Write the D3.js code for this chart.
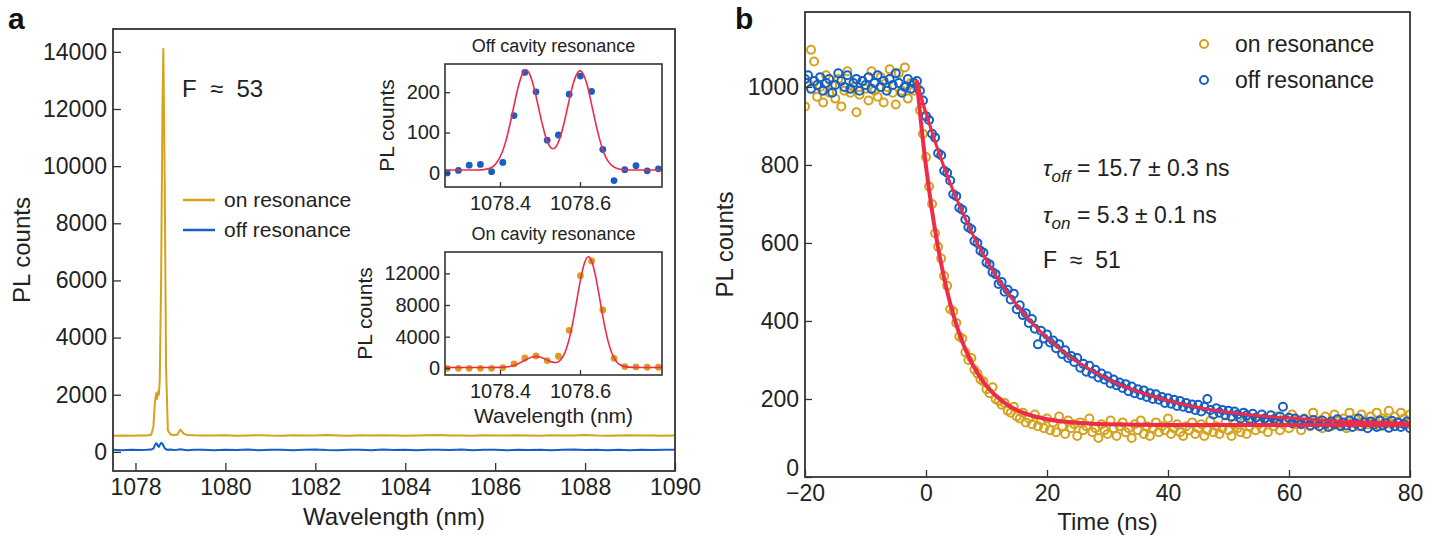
<!DOCTYPE html>
<html>
<head>
<meta charset="utf-8">
<script src="https://cdn.jsdelivr.net/npm/d3@7"></script>
<style>
  body { margin: 0; background: #fff; }
  svg { font-family: "Liberation Sans", Arial, sans-serif; }
  .keep-space { white-space: pre; }
</style>
</head>
<body>
<div id="wrapper"></div>
<script>
// ---- data ----

// panel a, full spectrum
const specWavelength = [1077.5, 1077.7, 1077.9, 1078.1, 1078.25, 1078.35, 1078.40, 1078.43, 1078.46, 1078.48,
  1078.50, 1078.52, 1078.54, 1078.57, 1078.60, 1078.62, 1078.65, 1078.68, 1078.72, 1078.78,
  1078.85, 1078.93, 1079.0, 1079.07, 1079.15, 1079.3,
  1079.5, 1079.75, 1080, 1080.25, 1080.5, 1080.75, 1081, 1081.25, 1081.5, 1081.75,
  1082, 1082.25, 1082.5, 1082.75, 1083, 1083.25, 1083.5, 1083.75, 1084, 1084.25,
  1084.5, 1084.75, 1085, 1085.25, 1085.5, 1085.75, 1086, 1086.25, 1086.5, 1086.75,
  1087, 1087.25, 1087.5, 1087.75, 1088, 1088.25, 1088.5, 1088.75, 1089, 1089.25,
  1089.5, 1089.75, 1090]
const specOn = [560, 570, 565, 575, 570, 600, 900, 1700, 2050, 1850,
  2100, 2000, 2500, 6000, 12000, 14100, 9500, 3000, 750, 610,
  590, 600, 780, 640, 590, 580,
  575, 570, 580, 565, 575, 585, 570, 565, 580, 575,
  570, 590, 575, 565, 580, 570, 585, 575, 565, 570,
  580, 590, 570, 575, 565, 580, 575, 570, 585, 575,
  565, 580, 570, 575, 590, 570, 565, 575, 580, 570,
  575, 565, 570]
const specOff = [70, 60, 75, 65, 70, 80, 120, 230, 300, 280,
  200, 180, 240, 310, 290, 220, 130, 90, 70, 85,
  65, 75, 90, 70, 60, 75,
  70, 60, 75, 65, 80, 55, 70, 75, 60, 70,
  85, 65, 60, 75, 70, 55, 80, 65, 70, 60,
  75, 70, 65, 80, 60, 70, 75, 55, 70, 65,
  75, 60, 70, 80, 65, 70, 60, 75, 55, 70,
  65, 75, 70]

// insets, measured points
const insetWavelength = [1078.268, 1078.296, 1078.323, 1078.351, 1078.379, 1078.407, 1078.435, 1078.462, 1078.490, 1078.518,
  1078.546, 1078.573, 1078.601, 1078.629, 1078.657, 1078.685, 1078.712, 1078.740, 1078.768, 1078.796]
const insetOffCounts = [0, 6, 19, 21, 3, 26, 142, 249, 201, 81, 94, 195, 240, 202, 58, -19, 8, 18, 5, 10]
const insetOnCounts = [0, 0, 0, 0, 0, 84, 550, 1300, 1560, 970, 1520, 4800, 11700, 13560, 7370, 1260, 210, 170, 130, 130]

// insets, fitted curves
const insetFitOffWavelength = [1078.26, 1078.30, 1078.34, 1078.37, 1078.39, 1078.405, 1078.415, 1078.425, 1078.435, 1078.445,
  1078.455, 1078.465, 1078.475, 1078.485, 1078.495, 1078.505, 1078.515, 1078.525, 1078.5325, 1078.54,
  1078.55, 1078.56, 1078.57, 1078.58, 1078.59, 1078.60, 1078.61, 1078.62, 1078.63, 1078.64,
  1078.65, 1078.66, 1078.67, 1078.68, 1078.69, 1078.70, 1078.72, 1078.81]
const insetFitOffCounts = [7, 7, 7, 10, 23, 50, 80, 121, 167, 211,
  243, 255, 243, 211, 168, 124, 87, 65, 60, 65,
  87, 123, 167, 210, 241, 253, 241, 210, 165, 120,
  80, 49, 29, 18, 12, 9, 7, 7]
const insetFitOnWavelength = [1078.26, 1078.35, 1078.38, 1078.40, 1078.42, 1078.44, 1078.46, 1078.48, 1078.49, 1078.50,
  1078.52, 1078.53, 1078.54, 1078.55, 1078.56, 1078.57, 1078.58, 1078.59, 1078.60, 1078.61,
  1078.621, 1078.63, 1078.64, 1078.65, 1078.66, 1078.67, 1078.68, 1078.69, 1078.70, 1078.72,
  1078.75, 1078.81]
const insetFitOnCounts = [100, 100, 102, 116, 192, 449, 950, 1424, 1500, 1426,
  984, 776, 732, 989, 1725, 3122, 5268, 8014, 10870, 13130,
  14100, 13440, 11390, 8590, 5770, 3460, 1870, 926, 443, 141,
  100, 100]

// panel b, decay traces
const decayTime = [
  -20, -19.5, -19, -18.5, -18, -17.5, -17, -16.5, -16, -15.5, -15, -14.5, -14, -13.5, -13, -12.5, -12, -11.5, -11, -10.5,
  -10, -9.5, -9, -8.5, -8, -7.5, -7, -6.5, -6, -5.5, -5, -4.5, -4, -3.5, -3, -2.5, -2, -1.5, -1, -0.5,
  0, 0.5, 1, 1.5, 2, 2.5, 3, 3.5, 4, 4.5, 5, 5.5, 6, 6.5, 7, 7.5, 8, 8.5, 9, 9.5,
  10, 10.5, 11, 11.5, 12, 12.5, 13, 13.5, 14, 14.5, 15, 15.5, 16, 16.5, 17, 17.5, 18, 18.5, 19, 19.5,
  20, 20.5, 21, 21.5, 22, 22.5, 23, 23.5, 24, 24.5, 25, 25.5, 26, 26.5, 27, 27.5, 28, 28.5, 29, 29.5,
  30, 30.5, 31, 31.5, 32, 32.5, 33, 33.5, 34, 34.5, 35, 35.5, 36, 36.5, 37, 37.5, 38, 38.5, 39, 39.5,
  40, 40.5, 41, 41.5, 42, 42.5, 43, 43.5, 44, 44.5, 45, 45.5, 46, 46.5, 47, 47.5, 48, 48.5, 49, 49.5,
  50, 50.5, 51, 51.5, 52, 52.5, 53, 53.5, 54, 54.5, 55, 55.5, 56, 56.5, 57, 57.5, 58, 58.5, 59, 59.5,
  60, 60.5, 61, 61.5, 62, 62.5, 63, 63.5, 64, 64.5, 65, 65.5, 66, 66.5, 67, 67.5, 68, 68.5, 69, 69.5,
  70, 70.5, 71, 71.5, 72, 72.5, 73, 73.5, 74, 74.5, 75, 75.5, 76, 76.5, 77, 77.5, 78, 78.5, 79, 79.5,
  80]
const decayOn = [
  950, 1010, 1095, 1065, 975, 1000, 960, 1030, 985, 1005, 970, 1020, 950, 990, 1040, 985, 1000, 935, 980, 1015,
  995, 965, 1040, 990, 975, 1025, 960, 1000, 1045, 985, 955, 1035, 990, 1050, 970, 1010, 990, 1000, 940, 880,
  820, 745, 700, 625, 590, 560, 515, 490, 430, 425, 395, 360, 355, 320, 300, 305, 275, 265, 250, 245,
  225, 215, 230, 200, 195, 185, 190, 170, 165, 180, 155, 150, 165, 140, 150, 135, 160, 130, 145, 125,
  150, 120, 140, 115, 155, 130, 110, 145, 125, 135, 105, 140, 120, 130, 150, 115, 125, 100, 135, 120,
  110, 145, 125, 105, 130, 140, 115, 125, 100, 135, 120, 145, 110, 130, 105, 125, 140, 115, 130, 120,
  150, 110, 125, 135, 115, 105, 130, 120, 140, 110, 125, 135, 105, 120, 145, 115, 130, 110, 125, 140,
  120, 105, 135, 125, 115, 140, 110, 130, 145, 120, 135, 125, 150, 115, 140, 130, 155, 120, 135, 145,
  125, 160, 135, 145, 120, 150, 140, 130, 165, 135, 145, 125, 155, 140, 130, 160, 145, 135, 150, 125,
  165, 140, 150, 130, 160, 145, 135, 155, 140, 165, 130, 150, 145, 170, 135, 155, 140, 165, 150, 135,
  160]
const decayOff = [
  1020, 1030, 995, 1015, 1005, 1025, 990, 1010, 1020, 985, 1005, 1035, 1015, 1000, 1030, 995, 1010, 1020, 990, 1015,
  1005, 1025, 995, 1010, 1030, 1000, 1015, 990, 1020, 1005, 1035, 1010, 985, 1000, 1020, 995, 1010, 1015, 990, 965,
  925, 915, 880, 870, 830, 825, 785, 780, 760, 725, 720, 690, 685, 660, 640, 635, 605, 600, 580, 575,
  550, 545, 525, 520, 495, 500, 475, 480, 455, 470, 430, 440, 415, 420, 395, 405, 380, 340, 375, 355,
  365, 345, 350, 330, 340, 315, 325, 305, 310, 295, 305, 280, 290, 270, 285, 265, 275, 255, 265, 250,
  258, 240, 250, 235, 242, 228, 238, 220, 232, 215, 225, 210, 222, 205, 215, 200, 212, 198, 205, 190,
  202, 188, 198, 182, 195, 180, 190, 176, 186, 172, 185, 168, 180, 200, 172, 160, 176, 165, 172, 158,
  170, 155, 168, 160, 150, 165, 158, 148, 162, 152, 145, 160, 150, 142, 158, 148, 140, 155, 180, 145,
  152, 138, 150, 142, 135, 148, 140, 132, 146, 138, 130, 145, 136, 128, 142, 135, 148, 130, 140, 132,
  145, 128, 138, 150, 130, 140, 125, 142, 134, 128, 145, 132, 138, 126, 144, 130, 140, 128, 135, 142,
  125]

// panel b, fitted exponentials
const fitOnTime = [-1.5, -1, -0.5, 0, 0.5, 1, 1.5, 2, 3, 4, 5, 6, 7, 8, 10, 12, 14, 16, 18, 20, 25, 30, 40, 50, 60, 70, 80]
const fitOnCounts = [1013, 934, 862, 796, 737, 682, 633, 588, 510, 445, 391, 347, 310, 280, 233, 202, 180, 165, 155, 148, 139, 135, 133, 133, 133, 133, 133]
const fitOffTime = [-1.5, 0, 2, 4, 6, 8, 10, 12, 14, 16, 18, 20, 24, 28, 32, 36, 40, 45, 50, 55, 60, 65, 70, 75, 80]
const fitOffCounts = [1013, 933, 837, 753, 679, 613, 556, 505, 461, 422, 387, 357, 306, 268, 237, 214, 196, 178, 166, 157, 151, 146, 142, 140, 138]

// ticks
const specTicksX = [1078, 1080, 1082, 1084, 1086, 1088, 1090]
const specTicksY = [0, 2000, 4000, 6000, 8000, 10000, 12000, 14000]
const insetTicksX = [1078.4, 1078.6]
const insetOffTicksY = [0, 100, 200]
const insetOnTicksY = [0, 4000, 8000, 12000]
const decayTicksX = [-20, 0, 20, 40, 60, 80]
const decayTicksY = [0, 200, 400, 600, 800, 1000]

const gold = "#d6a21c"
const blue = "#1660c4"
const red = "#ef2b4a"
const ink = "#222"
const frameColor = "#333"

// ---- drawing ----

const svg = d3.select("#wrapper")
  .append("svg")
    .attr("width", 1430)
    .attr("height", 535)

// helper: boxed axes with inward ticks
function drawFrame(g, dims, xScale, yScale, opts) {
  const xAxisGenerator = d3.axisBottom(xScale)
    .tickValues(opts.xTicks)
    .tickFormat(d3.format(""))
    .tickSizeInner(-opts.tick)
    .tickSizeOuter(0)
    .tickPadding(opts.xPad)
  const yAxisGenerator = d3.axisLeft(yScale)
    .tickValues(opts.yTicks)
    .tickFormat(d3.format(""))
    .tickSizeInner(-opts.tick)
    .tickSizeOuter(0)
    .tickPadding(opts.yPad)

  const xAxis = g.append("g")
      .attr("transform", `translate(0, ${dims.height})`)
      .call(xAxisGenerator)
  const yAxis = g.append("g")
      .call(yAxisGenerator)

  ;[xAxis, yAxis].forEach(ax => {
    ax.select(".domain").remove()
    ax.selectAll(".tick line").attr("stroke", frameColor).attr("stroke-width", 1.3)
    ax.selectAll(".tick text")
      .attr("fill", ink)
      .style("font-size", opts.font + "px")
      .style("font-family", "'Liberation Sans', Arial, sans-serif")
  })

  g.append("rect")
      .attr("width", dims.width)
      .attr("height", dims.height)
      .attr("fill", "none")
      .attr("stroke", frameColor)
      .attr("stroke-width", opts.frame)

  return yAxis
}

// 1. Panel a, main spectrum
const dimsA = { left: 113, top: 29, width: 562, height: 442 }
const boundsA = svg.append("g")
    .attr("transform", `translate(${dimsA.left}, ${dimsA.top})`)

const xScaleA = d3.scaleLinear()
  .domain([1077.5, 1090])
  .range([0, dimsA.width])
const yScaleA = d3.scaleLinear()
  .domain([-670, 14800])
  .range([dimsA.height, 0])

const specLine = d3.line()
  .x(d => xScaleA(d[0]))
  .y(d => yScaleA(d[1]))

boundsA.append("path")
    .datum(d3.zip(specWavelength, specOff))
    .attr("d", specLine)
    .attr("fill", "none")
    .attr("stroke", blue)
    .attr("stroke-width", 2)
boundsA.append("path")
    .datum(d3.zip(specWavelength, specOn))
    .attr("d", specLine)
    .attr("fill", "none")
    .attr("stroke", gold)
    .attr("stroke-width", 2)
    .attr("stroke-linejoin", "round")

drawFrame(boundsA, dimsA, xScaleA, yScaleA, {
  xTicks: specTicksX, yTicks: specTicksY, tick: 8, xPad: 8, yPad: 6, font: 23, frame: 1.8
})

boundsA.append("text")
    .attr("x", dimsA.width / 2)
    .attr("y", dimsA.height + 54)
    .attr("text-anchor", "middle")
    .attr("fill", ink)
    .style("font-size", "24px")
    .text("Wavelength (nm)")
boundsA.append("text")
    .attr("transform", `translate(${22 - dimsA.left}, ${dimsA.height / 2}) rotate(-90)`)
    .attr("text-anchor", "middle")
    .attr("dy", "0.35em")
    .attr("fill", ink)
    .style("font-size", "24px")
    .text("PL counts")

boundsA.append("text")
    .attr("class", "keep-space")
    .attr("x", 182 - dimsA.left)
    .attr("y", 88 - dimsA.top)
    .attr("dy", "0.36em")
    .attr("fill", ink)
    .style("font-size", "24px")
    .text("F  ≈  53")

// legend a
const legendA = boundsA.append("g")
    .attr("transform", `translate(${183 - dimsA.left}, ${200 - dimsA.top})`)
const legendItems = [["on resonance", gold], ["off resonance", blue]]
legendItems.forEach(([label, color], i) => {
  legendA.append("line")
      .attr("x1", 0).attr("x2", 32)
      .attr("y1", i * 30).attr("y2", i * 30)
      .attr("stroke", color)
      .attr("stroke-width", 2.5)
  legendA.append("text")
      .attr("x", 41)
      .attr("y", i * 30)
      .attr("dy", "0.35em")
      .attr("fill", ink)
      .style("font-size", "21px")
      .text(label)
})

// 2. Insets
function drawInset(opts) {
  const dims = { left: 445, top: opts.top, width: 217, height: 123 }
  const g = svg.append("g")
      .attr("transform", `translate(${dims.left}, ${dims.top})`)
  g.append("rect")
      .attr("width", dims.width)
      .attr("height", dims.height)
      .attr("fill", "#fff")

  const xScale = d3.scaleLinear()
    .domain([1078.2625, 1078.805])
    .range([0, dims.width])
  const yScale = d3.scaleLinear()
    .domain(opts.yDomain)
    .range([dims.height, 0])

  const clipId = "clip-" + opts.id
  g.append("clipPath").attr("id", clipId)
    .append("rect").attr("width", dims.width).attr("height", dims.height)
  const plot = g.append("g").attr("clip-path", `url(#${clipId})`)

  plot.selectAll("circle")
    .data(d3.zip(insetWavelength, opts.counts))
    .join("circle")
      .attr("cx", d => xScale(d[0]))
      .attr("cy", d => yScale(d[1]))
      .attr("r", 3.4)
      .attr("fill", opts.color)

  const fitLine = d3.line()
    .x(d => xScale(d[0]))
    .y(d => yScale(d[1]))
    .curve(d3.curveMonotoneX)
  plot.append("path")
      .datum(d3.zip(opts.fitX, opts.fitY))
      .attr("d", fitLine)
      .attr("fill", "none")
      .attr("stroke", red)
      .attr("stroke-width", 1.6)

  drawFrame(g, dims, xScale, yScale, {
    xTicks: insetTicksX, yTicks: opts.yTicks, tick: 5, xPad: 9, yPad: 5, font: 20, frame: 1.6
  })

  g.append("text")
      .attr("x", dims.width / 2)
      .attr("y", -12)
      .attr("text-anchor", "middle")
      .attr("fill", ink)
      .style("font-size", "18px")
      .text(opts.title)
  g.append("text")
      .attr("transform", `translate(${opts.labelX - dims.left}, ${dims.height / 2}) rotate(-90)`)
      .attr("text-anchor", "middle")
      .attr("dy", "0.35em")
      .attr("fill", ink)
      .style("font-size", "21px")
      .text("PL counts")
  if (opts.xLabel) {
    g.append("text")
        .attr("x", dims.width / 2)
        .attr("y", dims.height + 48)
        .attr("text-anchor", "middle")
        .attr("fill", ink)
        .style("font-size", "21px")
        .text("Wavelength (nm)")
  }
}

drawInset({
  id: "off", top: 64, yDomain: [-35, 270], yTicks: insetOffTicksY,
  counts: insetOffCounts, color: blue, fitX: insetFitOffWavelength, fitY: insetFitOffCounts,
  title: "Off cavity resonance", labelX: 387, xLabel: false
})
drawInset({
  id: "on", top: 252, yDomain: [-850, 14700], yTicks: insetOnTicksY,
  counts: insetOnCounts, color: "#dc9a1e", fitX: insetFitOnWavelength, fitY: insetFitOnCounts,
  title: "On cavity resonance", labelX: 365, xLabel: true
})

// 3. Panel b, decay
const dimsB = { left: 805, top: 12, width: 605, height: 465 }
const boundsB = svg.append("g")
    .attr("transform", `translate(${dimsB.left}, ${dimsB.top})`)

const xScaleB = d3.scaleLinear()
  .domain([-20, 80])
  .range([0, dimsB.width])
const yScaleB = d3.scaleLinear()
  .domain([0, 1192])
  .range([dimsB.height, 0])

boundsB.append("clipPath").attr("id", "clip-b")
  .append("rect").attr("width", dimsB.width).attr("height", dimsB.height)
const plotB = boundsB.append("g").attr("clip-path", "url(#clip-b)")

const traces = [[decayOn, gold], [decayOff, blue]]
traces.forEach(([values, color]) => {
  plotB.append("g")
    .selectAll("circle")
    .data(d3.zip(decayTime, values))
    .join("circle")
      .attr("cx", d => xScaleB(d[0]))
      .attr("cy", d => yScaleB(d[1]))
      .attr("r", 4)
      .attr("fill", "none")
      .attr("stroke", color)
      .attr("stroke-width", 2)
})

const fitLineB = d3.line()
  .x(d => xScaleB(d[0]))
  .y(d => yScaleB(d[1]))
  .curve(d3.curveMonotoneX)
;[[fitOffTime, fitOffCounts, 3], [fitOnTime, fitOnCounts, 4]].forEach(([t, c, w]) => {
  plotB.append("path")
      .datum(d3.zip(t, c))
      .attr("d", fitLineB)
      .attr("fill", "none")
      .attr("stroke", red)
      .attr("stroke-width", w)
      .attr("stroke-linecap", "round")
})

const yAxisB = drawFrame(boundsB, dimsB, xScaleB, yScaleB, {
  xTicks: decayTicksX, yTicks: decayTicksY, tick: 7, xPad: 8, yPad: 6, font: 23, frame: 1.8
})
// the zero label sits right on the corner, lift it a little off the x labels
yAxisB.selectAll(".tick text").filter(d => d === 0).attr("dy", "-0.05em")

boundsB.append("text")
    .attr("x", dimsB.width / 2)
    .attr("y", dimsB.height + 53)
    .attr("text-anchor", "middle")
    .attr("fill", ink)
    .style("font-size", "24px")
    .text("Time (ns)")
boundsB.append("text")
    .attr("transform", `translate(${725 - dimsB.left}, ${dimsB.height / 2}) rotate(-90)`)
    .attr("text-anchor", "middle")
    .attr("dy", "0.35em")
    .attr("fill", ink)
    .style("font-size", "24px")
    .text("PL counts")

// legend b
const legendB = boundsB.append("g")
    .attr("transform", `translate(${1204 - dimsB.left}, ${44 - dimsB.top})`)
legendItems.forEach(([label, color], i) => {
  legendB.append("circle")
      .attr("cy", i * 36)
      .attr("r", 4)
      .attr("fill", "none")
      .attr("stroke", color)
      .attr("stroke-width", 2)
  legendB.append("text")
      .attr("x", 31)
      .attr("y", i * 36)
      .attr("dy", "0.35em")
      .attr("fill", ink)
      .style("font-size", "23px")
      .text(label)
})

// annotations b
const notes = [["off", " = 15.7 ± 0.3 ns", 168], ["on", " = 5.3 ± 0.1 ns", 215]]
notes.forEach(([sub, rest, y]) => {
  const t = boundsB.append("text")
      .attr("x", 1043 - dimsB.left)
      .attr("y", y - dimsB.top)
      .attr("dy", "0.36em")
      .attr("fill", ink)
      .style("font-size", "23px")
  t.append("tspan").style("font-style", "italic").text("τ")
  t.append("tspan").attr("dy", 6).style("font-size", "17px").style("font-style", "italic").text(sub)
  t.append("tspan").attr("dy", -6).text(rest)
})
boundsB.append("text")
    .attr("class", "keep-space")
    .attr("x", 1043 - dimsB.left)
    .attr("y", 260 - dimsB.top)
    .attr("dy", "0.36em")
    .attr("fill", ink)
    .style("font-size", "23px")
    .text("F  ≈  51")

// panel letters
svg.append("text").attr("x", 8).attr("y", 29)
    .style("font-size", "30px").style("font-weight", "bold").attr("fill", "#111").text("a")
svg.append("text").attr("x", 735).attr("y", 29)
    .style("font-size", "30px").style("font-weight", "bold").attr("fill", "#111").text("b")
</script>
</body>
</html>
